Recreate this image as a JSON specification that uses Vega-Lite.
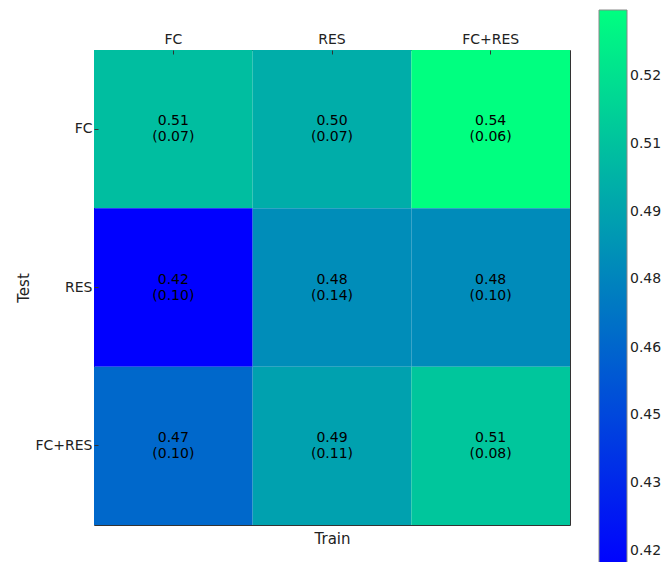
{
  "$schema": "https://vega.github.io/schema/vega-lite/v6.json",
  "autosize": "none",
  "width": 476,
  "height": 475,
  "padding": {"left": 94, "top": 50, "right": 93, "bottom": 37},
  "background": "white",
  "config": {
    "font": "DejaVu Sans",
    "view": {"stroke": "#333", "strokeWidth": 1},
    "axis": {"labelFont": "DejaVu Sans", "titleFont": "DejaVu Sans", "labelColor": "#222", "titleColor": "#222", "labelFontSize": 14, "titleFontSize": 15, "titleFontWeight": "normal", "domain": false, "tickColor": "#333", "tickSize": -4, "grid": false}
  },
  "data": {
    "values": [
      {"train": "FC", "test": "FC", "value": 0.508, "label": "0.51\n(0.07)"},
      {"train": "RES", "test": "FC", "value": 0.500, "label": "0.50\n(0.07)"},
      {"train": "FC+RES", "test": "FC", "value": 0.5396, "label": "0.54\n(0.06)"},
      {"train": "FC", "test": "RES", "value": 0.4157, "label": "0.42\n(0.10)"},
      {"train": "RES", "test": "RES", "value": 0.484, "label": "0.48\n(0.14)"},
      {"train": "FC+RES", "test": "RES", "value": 0.483, "label": "0.48\n(0.10)"},
      {"train": "FC", "test": "FC+RES", "value": 0.466, "label": "0.47\n(0.10)"},
      {"train": "RES", "test": "FC+RES", "value": 0.494, "label": "0.49\n(0.11)"},
      {"train": "FC+RES", "test": "FC+RES", "value": 0.512, "label": "0.51\n(0.08)"}
    ]
  },
  "layer": [
    {
      "mark": {"type": "rect"},
      "encoding": {
        "x": {"field": "train", "type": "nominal", "sort": ["FC", "RES", "FC+RES"], "scale": {"paddingInner": 0, "paddingOuter": 0},
              "axis": {"orient": "top", "title": null, "labelAngle": 0, "labelPadding": 8}},
        "y": {"field": "test", "type": "nominal", "sort": ["FC", "RES", "FC+RES"], "scale": {"paddingInner": 0, "paddingOuter": 0},
              "axis": {"title": "Test", "labelPadding": 6, "titlePadding": 3}},
        "color": {"field": "value", "type": "quantitative",
                  "scale": {"domain": [0.4157, 0.5396], "range": ["#0000ff", "#00ff80"], "interpolate": "rgb"},
                  "legend": {"orient": "none", "legendX": 505, "legendY": -40, "direction": "vertical", "title": null,
                             "gradientLength": 560, "gradientThickness": 28, "gradientStrokeColor": "#888", "gradientStrokeWidth": 1,
                             "values": [0.42, 0.4349, 0.45, 0.4649, 0.48, 0.4949, 0.51, 0.5249], "format": ".2f",
                             "labelFont": "DejaVu Sans", "labelFontSize": 14, "labelColor": "#222", "labelOffset": 3, "labelOverlap": false}}
      }
    },
    {
      "mark": {"type": "text", "font": "DejaVu Sans", "fontSize": 14, "color": "black", "lineBreak": "\n", "lineHeight": 16, "baseline": "middle", "dy": -8},
      "encoding": {
        "x": {"field": "train", "type": "nominal", "sort": ["FC", "RES", "FC+RES"],
              "axis": {"orient": "bottom", "title": "Train", "labels": false, "titlePadding": 6}},
        "y": {"field": "test", "type": "nominal", "sort": ["FC", "RES", "FC+RES"],
              "axis": {"orient": "right", "title": null, "labels": false}},
        "text": {"field": "label"}
      }
    }
  ],
  "resolve": {"axis": {"x": "independent", "y": "independent"}}
}
